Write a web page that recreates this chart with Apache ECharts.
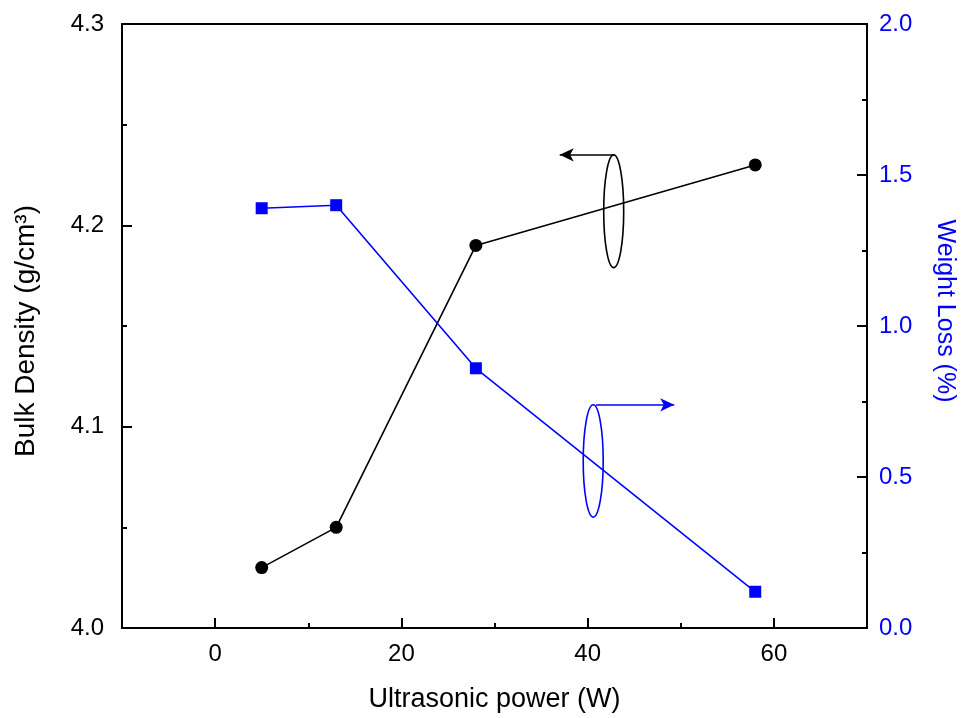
<!DOCTYPE html>
<html>
<head>
<meta charset="utf-8">
<script src="https://cdn.jsdelivr.net/npm/echarts@6/dist/echarts.min.js"></script>
<style>
  html, body { margin: 0; padding: 0; background: #fff; }
  #chart { width: 962px; height: 718px; }
</style>
</head>
<body>
<div id="chart"></div>
<script>
// Ultrasonic power (W) at which samples were treated
const power = [5, 13, 28, 58];
// Bulk density (g/cm3), left axis
const bulkDensity = [4.03, 4.05, 4.19, 4.23];
// Weight loss (%), right axis
const weightLoss = [1.39, 1.40, 0.86, 0.12];

// Axis ranges, tick steps and labelled ticks
const xRange = { min: -10, max: 70, minorStep: 10 };
const xTickValues = [0, 20, 40, 60];
const yLeftRange = { min: 4.0, max: 4.3, interval: 0.1 };
const yRightRange = { min: 0.0, max: 2.0, interval: 0.5 };

// Series-indicator annotations (ellipse centre, half-height in data units, arrow end x)
const densityMarker = { x: 42.8, y: 4.207, halfH: 0.028, arrowTo: 37.0 };
const lossMarker = { x: 40.6, y: 0.553, halfH: 0.186, arrowTo: 49.3 };

const BLUE = '#0000ff';
const FONT = 'Liberation Sans, Arial, sans-serif';

const chart = echarts.init(document.getElementById('chart'), null, { renderer: 'canvas' });

function pairs(xs, ys) { return xs.map((x, i) => [x, ys[i]]); }

const tickStyle = { color: '#000', width: 2 };

const option = {
  backgroundColor: '#ffffff',
  animation: false,
  grid: {
    left: 122, right: 95, top: 24, bottom: 90,
    outerBoundsMode: 'none', containLabel: false,
    show: true, borderColor: '#000', borderWidth: 2, backgroundColor: 'transparent'
  },
  xAxis: [
    {
      type: 'value', position: 'bottom',
      min: xRange.min, max: xRange.max, interval: xRange.minorStep,
      name: 'Ultrasonic power (W)',
      nameLocation: 'middle', nameGap: 58,
      nameTextStyle: { fontFamily: FONT, fontSize: 27, color: '#000' },
      axisLine: { show: true, onZero: false, lineStyle: tickStyle },
      axisTick: { inside: true, length: 10, customValues: xTickValues, lineStyle: tickStyle },
      axisLabel: { fontFamily: FONT, fontSize: 24, color: '#000', margin: 14,
        customValues: xTickValues },
      splitLine: { show: false }
    },
    {
      // shorter ticks halfway between the labelled ones
      type: 'value', position: 'bottom',
      min: xRange.min, max: xRange.max, interval: xRange.minorStep,
      axisLine: { show: false, onZero: false },
      axisTick: { inside: true, length: 5, lineStyle: tickStyle },
      axisLabel: { show: false },
      splitLine: { show: false }
    }
  ],
  yAxis: [
    {
      type: 'value', position: 'left',
      min: yLeftRange.min, max: yLeftRange.max, interval: yLeftRange.interval,
      name: 'Bulk Density (g/cm³)',
      nameLocation: 'middle', nameGap: 82, nameRotate: 90,
      nameTextStyle: { fontFamily: FONT, fontSize: 28, color: '#000', padding: [0, 10, 0, 0] },
      axisLine: { show: true, onZero: false, lineStyle: tickStyle },
      axisTick: { inside: true, length: 10, lineStyle: tickStyle },
      minorTick: { show: true, splitNumber: 2, length: 5, lineStyle: tickStyle },
      axisLabel: { fontFamily: FONT, fontSize: 24, color: '#000', margin: 18,
        formatter: v => v.toFixed(1) },
      splitLine: { show: false }
    },
    {
      type: 'value', position: 'right',
      min: yRightRange.min, max: yRightRange.max, interval: yRightRange.interval,
      name: 'Weight Loss (%)',
      nameLocation: 'middle', nameGap: 65, nameRotate: -90,
      nameTextStyle: { fontFamily: FONT, fontSize: 25, color: BLUE, padding: [0, 30, 0, 0] },
      axisLine: { show: true, onZero: false, lineStyle: tickStyle },
      axisTick: { inside: true, length: 10, lineStyle: tickStyle },
      minorTick: { show: true, splitNumber: 2, length: 5, lineStyle: tickStyle },
      axisLabel: { fontFamily: FONT, fontSize: 24, color: BLUE, margin: 12,
        formatter: v => v.toFixed(1) },
      splitLine: { show: false }
    }
  ],
  series: [
    {
      name: 'Bulk Density', type: 'line', xAxisIndex: 0, yAxisIndex: 0,
      data: pairs(power, bulkDensity),
      symbol: 'circle', symbolSize: 13,
      itemStyle: { color: '#000' },
      lineStyle: { color: '#000', width: 1.6 },
      markLine: {
        silent: true, animation: false,
        symbol: ['none', 'arrow'], symbolSize: [10, 14],
        label: { show: false },
        lineStyle: { color: '#000', width: 1.6, type: 'solid' },
        data: [[
          { coord: [densityMarker.x, densityMarker.y + densityMarker.halfH] },
          { coord: [densityMarker.arrowTo, densityMarker.y + densityMarker.halfH] }
        ]]
      }
    },
    {
      name: 'Weight Loss', type: 'line', xAxisIndex: 0, yAxisIndex: 1,
      data: pairs(power, weightLoss),
      symbol: 'rect', symbolSize: 12,
      itemStyle: { color: BLUE },
      lineStyle: { color: BLUE, width: 1.6 },
      markLine: {
        silent: true, animation: false,
        symbol: ['none', 'arrow'], symbolSize: [10, 14],
        label: { show: false },
        lineStyle: { color: BLUE, width: 1.6, type: 'solid' },
        data: [[
          { coord: [lossMarker.x + 0.3, lossMarker.y + lossMarker.halfH] },
          { coord: [lossMarker.arrowTo, lossMarker.y + lossMarker.halfH] }
        ]]
      }
    }
  ]
};

chart.setOption(option);

// Ellipses marking which curve belongs to which axis
function ellipseFor(m, yAxisIndex, color) {
  const c = chart.convertToPixel({ xAxisIndex: 0, yAxisIndex }, [m.x, m.y]);
  const t = chart.convertToPixel({ xAxisIndex: 0, yAxisIndex }, [m.x, m.y + m.halfH]);
  return {
    type: 'ellipse',
    shape: { cx: c[0], cy: c[1], rx: 10, ry: Math.abs(c[1] - t[1]) },
    style: { fill: 'none', stroke: color, lineWidth: 1.6 },
    silent: true, z: 10
  };
}

chart.setOption({
  graphic: [
    ellipseFor(densityMarker, 0, '#000'),
    ellipseFor(lossMarker, 1, BLUE)
  ]
});
</script>
</body>
</html>
